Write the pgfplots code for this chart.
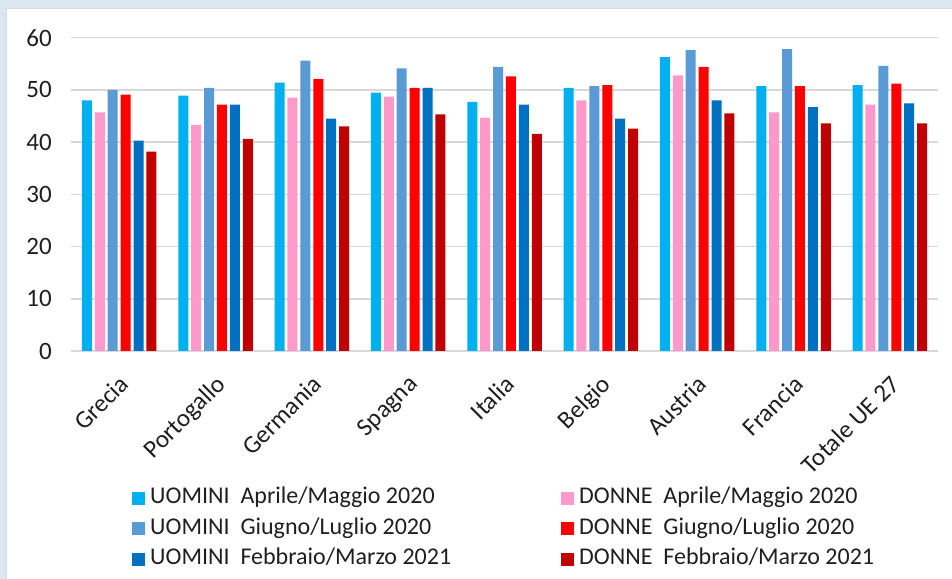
\documentclass[border=0pt]{standalone}
\usepackage{fontspec}
\setmainfont{Carlito}
\usepackage{pgfplots}
\usepackage{pgfplotstable}
\pgfplotsset{compat=1.18}
\definecolor{cA}{HTML}{00B0F0}
\definecolor{cB}{HTML}{FF99CC}
\definecolor{cC}{HTML}{5B9BD5}
\definecolor{cD}{HTML}{FF0000}
\definecolor{cE}{HTML}{0070C0}
\definecolor{cF}{HTML}{C00000}
\definecolor{gridc}{HTML}{D9D9D9}
\definecolor{frameblue}{HTML}{DCE6F2}
\definecolor{txt}{HTML}{1F1F1F}
\pgfplotstableread{
x U1 D1 U2 D2 U3 D3
0 48.0 45.7 50.0 49.1 40.3 38.2
1 48.9 43.3 50.4 47.2 47.2 40.6
2 51.4 48.5 55.6 52.1 44.5 43.0
3 49.5 48.7 54.1 50.4 50.4 45.3
4 47.7 44.7 54.4 52.6 47.2 41.6
5 50.4 48.0 50.7 50.9 44.5 42.6
6 56.3 52.8 57.6 54.4 48.0 45.5
7 50.7 45.7 57.8 50.7 46.7 43.6
8 50.9 47.2 54.6 51.2 47.4 43.6
}\datatable
\begin{document}
\begin{tikzpicture}[x=1bp,y=1bp]
\useasboundingbox (0,0) rectangle (952,579);
\fill[frameblue] (0,0) rectangle (952,579);
\fill[white] (6,0) rectangle (952,571);
\draw[line width=1bp, color=black!14] (6.5,0) -- (6.5,570.5) -- (952,570.5);
\begin{axis}[
  at={(71bp,228bp)}, anchor=south west,
  width=867bp, height=313.3bp, scale only axis,
  ymin=0, ymax=60, xmin=-0.5, xmax=8.5,
  ytick={0,10,...,60},
  xtick={0,...,8},
  xticklabels={Grecia,Portogallo,Germania,Spagna,Italia,Belgio,Austria,Francia,Totale UE 27},
  /pgf/number format/assume math mode=true,
  axis line style={draw=none},
  major tick length=0pt,
  ymajorgrids, grid style={color=gridc, line width=1.5bp},
  ybar=2.9bp, bar width=10bp,
  yticklabel style={font=\fontsize{25bp}{29bp}\selectfont, text=txt, anchor=east, inner sep=0pt, xshift=-19bp},
  xticklabel style={font=\fontsize{25bp}{29bp}\selectfont, text=txt, anchor=north east, inner sep=0pt, xshift=-1bp, yshift=-22.5bp, rotate=45},
  legend columns=2,
  legend cell align=left,
  legend image code/.code={\fill[#1] (0bp,-6.5bp) rectangle (13bp,6.5bp);},
  legend style={at={(axis description cs:0.0704,-0.433)}, anchor=north west,
    draw=none, fill=none, inner sep=0pt, font=\fontsize{24bp}{28bp}\selectfont, text=txt,
    row sep=7.5bp,
    /tikz/every odd column/.append style={column sep=5bp},
    /tikz/every even column/.append style={column sep=110bp},
    nodes={inner sep=0pt, text height=17bp, text depth=6bp}},
]
\addplot[fill=cA, draw=none] table[x=x, y=U1] {\datatable};
\addplot[fill=cB, draw=none] table[x=x, y=D1] {\datatable};
\addplot[fill=cC, draw=none] table[x=x, y=U2] {\datatable};
\addplot[fill=cD, draw=none] table[x=x, y=D2] {\datatable};
\addplot[fill=cE, draw=none] table[x=x, y=U3] {\datatable};
\addplot[fill=cF, draw=none] table[x=x, y=D3] {\datatable};
\legend{UOMINI\ \ Aprile/Maggio 2020, DONNE\ \ Aprile/Maggio 2020,
        UOMINI\ \ Giugno/Luglio 2020, DONNE\ \ Giugno/Luglio 2020,
        UOMINI\ \ Febbraio/Marzo 2021, DONNE\ \ Febbraio/Marzo 2021}
\end{axis}
\end{tikzpicture}
\end{document}
